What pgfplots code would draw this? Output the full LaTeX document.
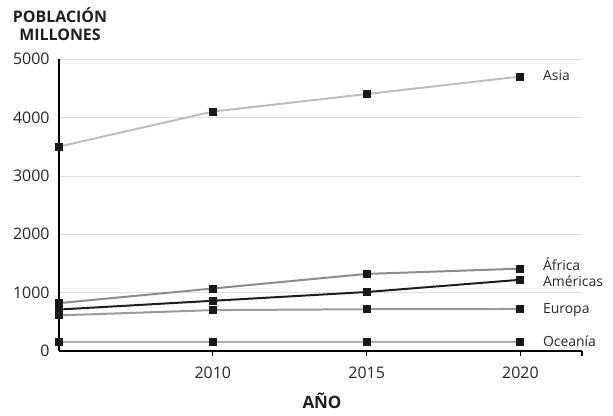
\documentclass[border=0pt]{standalone}
\usepackage{fontspec}
\setmainfont{Open Sans}
\usepackage{pgfplots}
\pgfplotsset{compat=1.18}

\definecolor{txt}{HTML}{262626}
\definecolor{asia}{HTML}{BDBDBD}
\definecolor{africa}{HTML}{8C8C8C}
\definecolor{americas}{HTML}{1E1E1E}
\definecolor{europa}{HTML}{9A9A9A}
\definecolor{oceania}{HTML}{ABABAB}

\begin{document}
\begin{tikzpicture}
\begin{axis}[
    scale only axis,
    width=523bp, height=292bp,
    xmin=2005, xmax=2022,
    ymin=0, ymax=5000,
    axis lines*=left,
    axis line style={black, line width=1.1pt},
    clip=false,
    xtick={2010,2015,2020},
    extra x ticks={2022},
    extra x tick labels={},
    ytick={0,1000,2000,3000,4000,5000},
    ymajorgrids,
    grid style={black!12, line width=0.6pt},
    tick align=outside,
    major tick length=5bp,
    xtick style={black, line width=1.1pt},
    ytick style={draw=none},
    /pgf/number format/1000 sep={},
    /pgf/number format/assume math mode=true,
    tick label style={font=\fontsize{16}{18}\selectfont, text=txt},
    xticklabel style={yshift=-7bp},
    yticklabel style={xshift=-1bp},
    every axis plot/.append style={
        line width=2pt,
        mark=square*,
        mark size=3.5bp,
        mark options={draw=black!90, fill=black!90, line width=0pt}
    },
]
\addplot[color=asia] coordinates {(2005,3500) (2010,4100) (2015,4400) (2020,4700)};
\addplot[color=oceania] coordinates {(2005,150) (2010,150) (2015,150) (2020,150)};
\addplot[color=europa] coordinates {(2005,610) (2010,700) (2015,715) (2020,720)};
\addplot[color=africa] coordinates {(2005,820) (2010,1070) (2015,1320) (2020,1410)};
\addplot[color=americas] coordinates {(2005,710) (2010,860) (2015,1010) (2020,1220)};

\begin{scope}[every node/.style={anchor=west, font=\fontsize{14}{16}\selectfont, text=txt}]
\node at (axis cs:2020.62,4710) {Asia};
\node at (axis cs:2020.62,1490) {África};
\node at (axis cs:2020.62,1200) {Américas};
\node at (axis cs:2020.62,700) {Europa};
\node at (axis cs:2020.62,160) {Oceanía};
\end{scope}
\end{axis}

\node[align=center, font=\fontsize{16}{18}\selectfont\bfseries, text=black!88] at (1bp,327bp) {POBLACIÓN\\MILLONES};
\node[font=\fontsize{17}{18}\selectfont\bfseries, text=black!88] at (263bp,-50bp) {AÑO};

\pgfresetboundingbox
\useasboundingbox (-59bp,-65bp) rectangle (554bp,351bp);
\end{tikzpicture}
\end{document}
